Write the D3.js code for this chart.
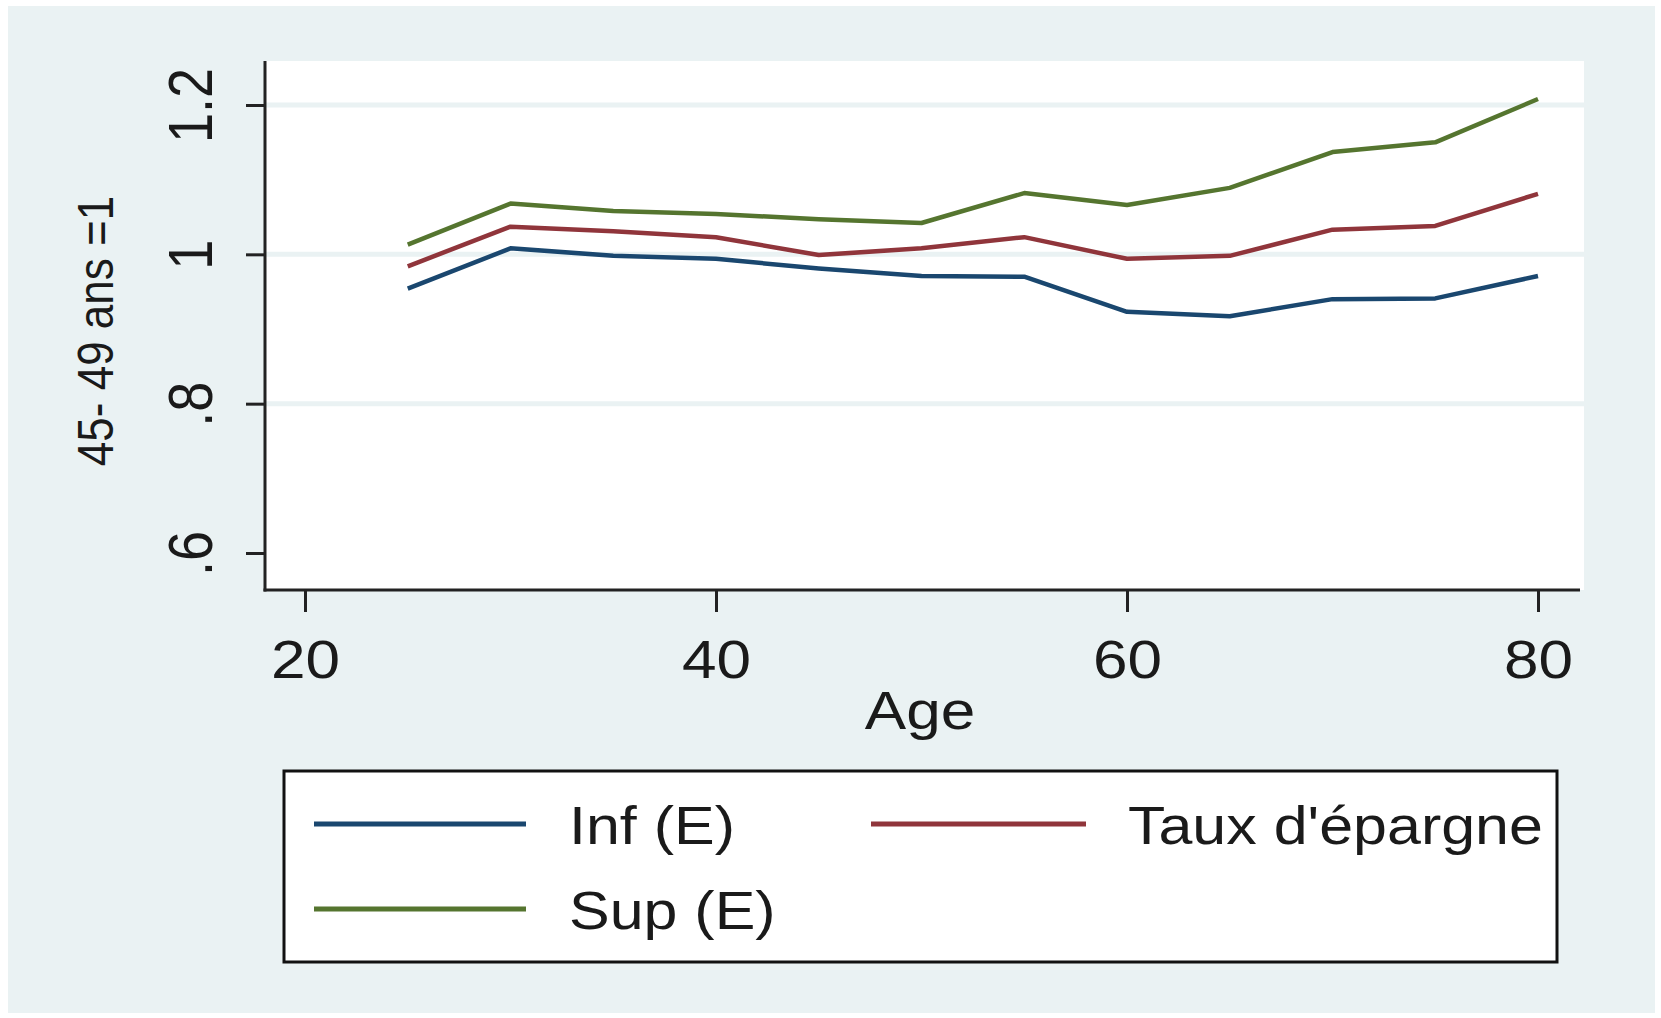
<!DOCTYPE html>
<html>
<head>
<meta charset="utf-8">
<script src="https://cdn.jsdelivr.net/npm/d3@7"></script>
<style>
  html, body { margin: 0; padding: 0; background: #ffffff; }
  svg { display: block; }
  text { font-family: "Liberation Sans", Arial, sans-serif; fill: #1a1a1a; }
</style>
</head>
<body>
<svg id="chart" width="1661" height="1018"></svg>
<script>
// ---- data ----
const ages = [25, 30, 35, 40, 45, 50, 55, 60, 65, 70, 75, 80];
const infE = [0.954, 1.008, 0.998, 0.994, 0.981, 0.971, 0.970, 0.923, 0.917, 0.940, 0.941, 0.971];
const tauxEpargne = [0.984, 1.037, 1.031, 1.023, 0.999, 1.008, 1.023, 0.994, 0.998, 1.033, 1.038, 1.081];
const supE = [1.013, 1.068, 1.058, 1.054, 1.047, 1.042, 1.082, 1.066, 1.089, 1.137, 1.150, 1.208];

const seriesNames = ["Inf (E)", "Taux d'épargne", "Sup (E)"];
const seriesColors = ["#1a476f", "#90353b", "#55752f"];
const seriesValues = [infE, tauxEpargne, supE];

const xTicks = [20, 40, 60, 80];
const xTickLabels = ["20", "40", "60", "80"];
const yTicks = [0.6, 0.8, 1.0, 1.2];
const yTickLabels = [".6", ".8", "1", "1.2"];
const yGrid = [0.8, 1.0, 1.2];

const xTitle = "Age";
const yTitle = "45- 49 ans =1";

// ---- layout ----
const svg = d3.select("#chart");
const plot = { left: 265, right: 1584, top: 61, bottom: 590 };
const SX = 1.15; // horizontal text stretch seen in the reference

const x = d3.scaleLinear().domain([20, 80]).range([305, 1538]);
const y = d3.scaleLinear().domain([0.6, 1.2]).range([553, 105]);

// graph region background
svg.append("rect").attr("x", 8).attr("y", 6).attr("width", 1647).attr("height", 1007)
  .attr("fill", "#eaf2f3");

// plot region
svg.append("rect").attr("x", plot.left).attr("y", plot.top)
  .attr("width", plot.right - plot.left).attr("height", plot.bottom - plot.top)
  .attr("fill", "#ffffff");

// gridlines
svg.append("g").selectAll("line").data(yGrid).join("line")
  .attr("x1", plot.left).attr("x2", plot.right)
  .attr("y1", d => y(d)).attr("y2", d => y(d))
  .attr("stroke", "#eaf2f3").attr("stroke-width", 5);

// series lines
const line = d3.line().x((d, i) => x(ages[i])).y(d => y(d));
svg.append("g").selectAll("path").data(seriesValues).join("path")
  .attr("d", d => line(d))
  .attr("fill", "none")
  .attr("stroke", (d, i) => seriesColors[i])
  .attr("stroke-width", 4.5)
  .attr("stroke-linejoin", "round")
  .attr("stroke-linecap", "butt");

// x axis
const xAxis = d3.axisBottom(x).tickValues(xTicks)
  .tickFormat((d, i) => xTickLabels[i]).tickSize(22).tickPadding(0);
const gx = svg.append("g").attr("transform", `translate(0,${plot.bottom})`).call(xAxis);
gx.select(".domain").remove();
gx.selectAll(".tick line").attr("stroke", "#222").attr("stroke-width", 3);
gx.selectAll(".tick text")
  .attr("y", 88).attr("dy", null)
  .attr("font-size", 54)
  .attr("text-anchor", "middle")
  .attr("transform", `scale(${SX},1)`)
  .attr("x", 0)
  .style("fill", "#1a1a1a");

// y axis
const yAxis = d3.axisLeft(y).tickValues(yTicks)
  .tickFormat((d, i) => yTickLabels[i]).tickSize(19).tickPadding(0);
const gy = svg.append("g").attr("transform", `translate(${plot.left},0)`).call(yAxis);
gy.select(".domain").remove();
gy.selectAll(".tick line").attr("stroke", "#222").attr("stroke-width", 3);
gy.selectAll(".tick text")
  .attr("x", null).attr("y", null).attr("dy", null)
  .attr("font-size", 54)
  .attr("text-anchor", "middle")
  .attr("transform", `translate(-53,0) scale(${SX},1) rotate(-90)`)
  .style("fill", "#1a1a1a");

// axis lines
svg.append("line").attr("x1", plot.left).attr("x2", plot.left)
  .attr("y1", plot.top).attr("y2", plot.bottom + 1.5)
  .attr("stroke", "#222").attr("stroke-width", 3);
svg.append("line").attr("x1", plot.left - 1.5).attr("x2", 1580)
  .attr("y1", plot.bottom).attr("y2", plot.bottom)
  .attr("stroke", "#222").attr("stroke-width", 3);

// axis titles
svg.append("text").text(xTitle)
  .attr("font-size", 54).attr("text-anchor", "middle")
  .attr("transform", `translate(920,729) scale(${SX},1)`);
svg.append("text").text(yTitle)
  .attr("font-size", 44).attr("text-anchor", "middle")
  .attr("transform", `translate(113,331) scale(${SX},1) rotate(-90)`);

// legend
const leg = svg.append("g");
leg.append("rect").attr("x", 284).attr("y", 771).attr("width", 1273).attr("height", 191)
  .attr("fill", "#ffffff").attr("stroke", "#111").attr("stroke-width", 3);
const legPos = [
  { lx1: 314, lx2: 526, tx: 569, cy: 824 },
  { lx1: 871, lx2: 1086, tx: 1128, cy: 824 },
  { lx1: 314, lx2: 526, tx: 569, cy: 909 }
];
const items = leg.selectAll("g.item").data(seriesNames).join("g").attr("class", "item");
items.append("line")
  .attr("x1", (d, i) => legPos[i].lx1).attr("x2", (d, i) => legPos[i].lx2)
  .attr("y1", (d, i) => legPos[i].cy).attr("y2", (d, i) => legPos[i].cy)
  .attr("stroke", (d, i) => seriesColors[i]).attr("stroke-width", 5);
items.append("text").text(d => d)
  .attr("font-size", 53)
  .attr("transform", (d, i) => `translate(${legPos[i].tx},${legPos[i].cy + 20}) scale(${SX},1)`);
</script>
</body>
</html>
